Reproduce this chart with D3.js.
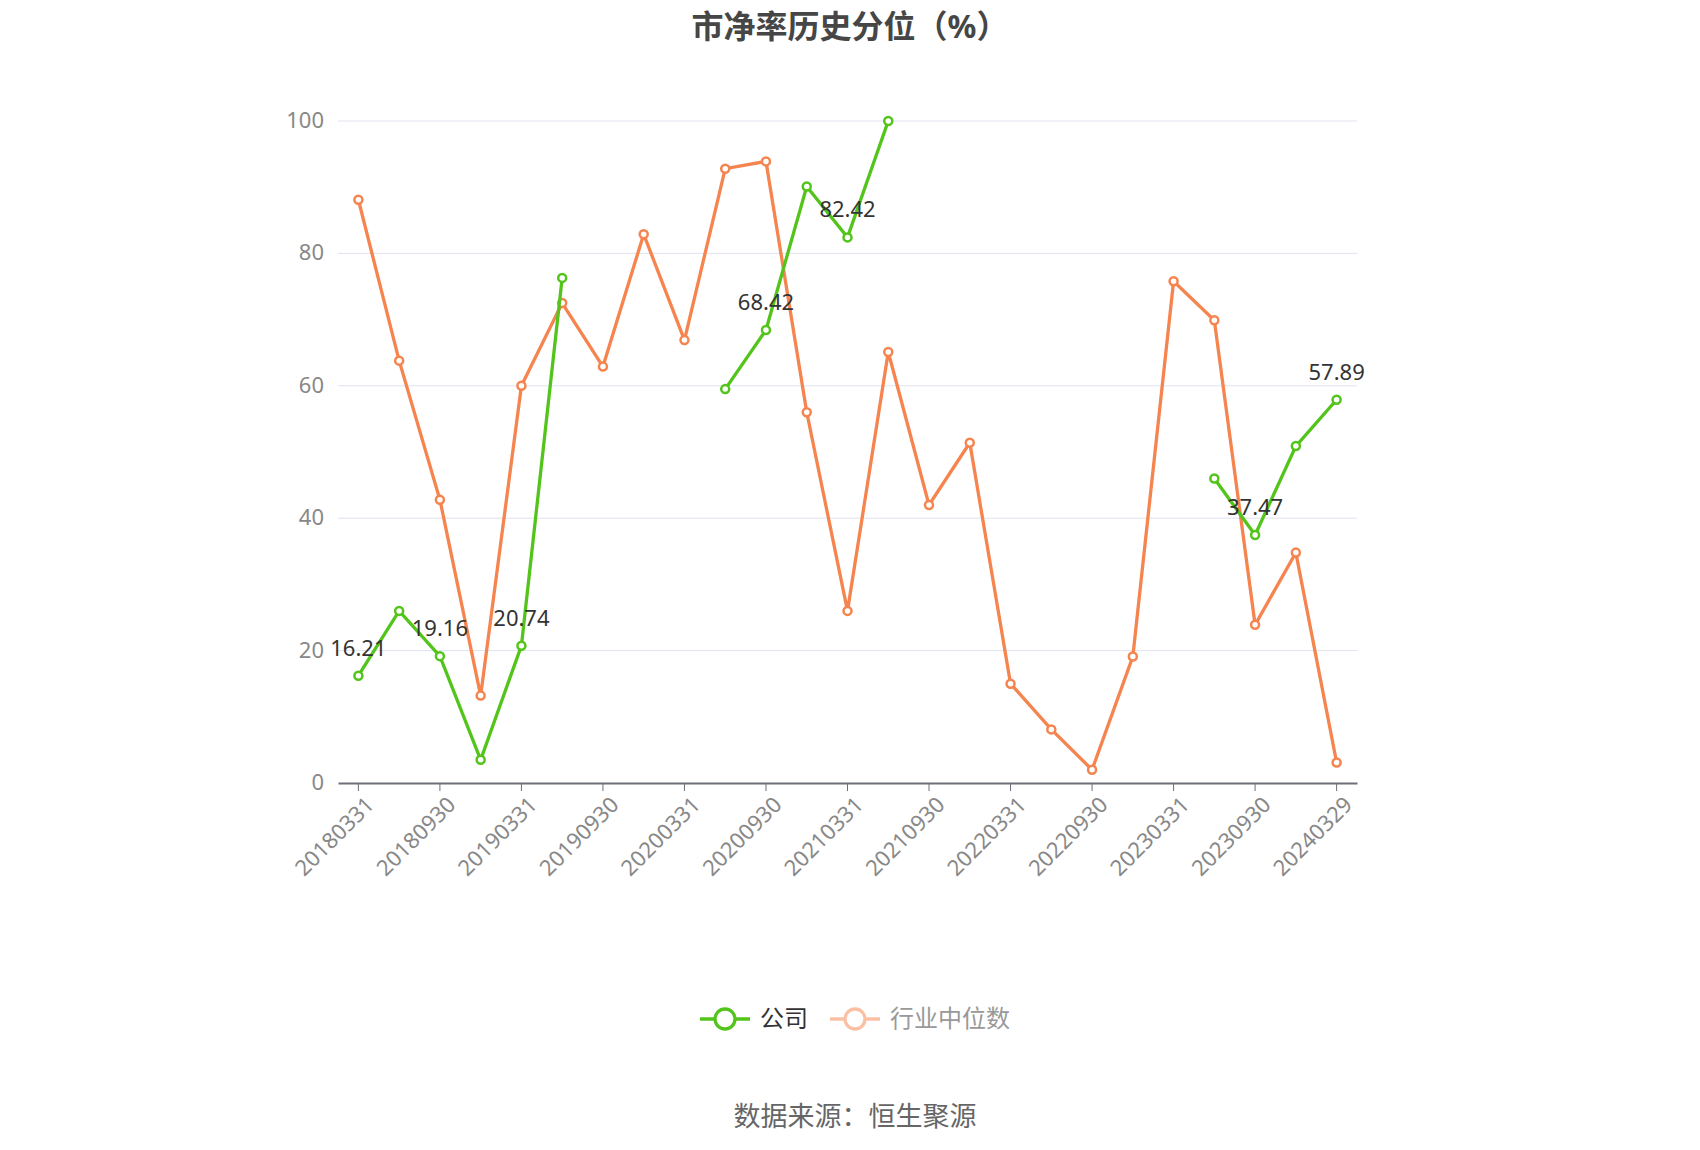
<!DOCTYPE html>
<html><head><meta charset="utf-8">
<script src="https://cdn.jsdelivr.net/npm/d3@7"></script>
<style>body{margin:0;background:#fff;font-family:"Noto Sans","Noto Sans CJK SC",sans-serif}</style>
</head><body><svg id="c" width="1700" height="1150"></svg>
<script>
const dates = ["20180331","20180630","20180930","20181231","20190331","20190630","20190930","20191231","20200331","20200630","20200930","20201231","20210331","20210630","20210930","20211231","20220331","20220630","20220930","20221230","20230331","20230630","20230930","20231229","20240329"];
const company = [16.21,26,19.16,3.5,20.74,76.3,null,null,null,59.5,68.42,90.1,82.42,100,null,null,null,null,null,null,null,46,37.47,50.9,57.89];
const industry = [88.1,63.8,42.8,13.2,60,72.5,62.9,82.9,66.9,92.8,93.9,56,26,65.1,42,51.4,15,8.1,2,19.1,75.8,69.9,23.9,34.8,3.1];
const labelIdx = [0,2,4,10,12,22,24];
const yTicks = [0,20,40,60,80,100];

const svg = d3.select("#c");
const L = 338, R = 1357, T = 121, B = 783;
const x = d3.scaleBand().domain(dates).range([L, R]);
const cx = d => x(d) + x.bandwidth() / 2;
const y = d3.scaleLinear().domain([0, 100]).range([B, T]);

svg.append("text").attr("x", 850).attr("y", 38).attr("text-anchor", "middle")
  .attr("font-size", 32).attr("font-weight", "bold").attr("fill", "#464646").text("市净率历史分位（%）");

svg.append("g").selectAll("line").data(yTicks.slice(1)).join("line")
  .attr("x1", L).attr("x2", R).attr("y1", d => y(d)).attr("y2", d => y(d)).attr("stroke", "#e0e3ef");
svg.append("g").selectAll("text").data(yTicks).join("text")
  .attr("x", L - 14).attr("y", d => y(d) + 7).attr("text-anchor", "end")
  .attr("font-size", 22).attr("fill", "#888").text(d => d);

const xa = svg.append("g").attr("transform", `translate(0,${B})`)
  .call(d3.axisBottom(x).tickValues(dates.filter((d, i) => i % 2 === 0)).tickSize(8).tickSizeOuter(0));
xa.select(".domain").attr("stroke", "#6e7079").attr("stroke-width", 2);
xa.selectAll(".tick line").attr("stroke", "#6e7079");
xa.selectAll(".tick text").attr("font-size", 22).attr("fill", "#888")
  .attr("font-family", "Noto Sans").attr("text-anchor", "end")
  .attr("transform", "translate(0,6) rotate(-45)").attr("dx", 0).attr("dy", "0.6em");

const line = d3.line().defined(d => d[1] != null).x(d => cx(d[0])).y(d => y(d[1]));
function series(vals, color) {
  const pts = dates.map((d, i) => [d, vals[i]]);
  svg.append("path").datum(pts).attr("d", line).attr("fill", "none")
    .attr("stroke", color).attr("stroke-width", 3.3);
  svg.append("g").selectAll("circle").data(pts.filter(p => p[1] != null)).join("circle")
    .attr("cx", p => cx(p[0])).attr("cy", p => y(p[1])).attr("r", 4)
    .attr("fill", "#fff").attr("stroke", color).attr("stroke-width", 2.5);
}
series(industry, "#f5844f");
series(company, "#52c41a");

svg.append("g").selectAll("text").data(labelIdx).join("text")
  .attr("x", i => cx(dates[i])).attr("y", i => y(company[i]) - 20).attr("text-anchor", "middle")
  .attr("font-size", 22).attr("fill", "#333").text(i => company[i].toFixed(2));

const lg = svg.append("g").attr("transform", "translate(700,1019)");
lg.append("line").attr("x1", 0).attr("x2", 50).attr("stroke", "#52c41a").attr("stroke-width", 3.3);
lg.append("circle").attr("cx", 25).attr("r", 10).attr("fill", "#fff").attr("stroke", "#52c41a").attr("stroke-width", 3.3);
lg.append("text").attr("x", 60).attr("y", 8).attr("font-size", 24).attr("fill", "#333").text("公司");
lg.append("line").attr("x1", 130).attr("x2", 180).attr("stroke", "#fbc0a3").attr("stroke-width", 3.3);
lg.append("circle").attr("cx", 155).attr("r", 10).attr("fill", "#fff").attr("stroke", "#fbc0a3").attr("stroke-width", 3.3);
lg.append("text").attr("x", 190).attr("y", 8).attr("font-size", 24).attr("fill", "#999").text("行业中位数");

svg.append("text").attr("x", 855).attr("y", 1126).attr("text-anchor", "middle")
  .attr("font-size", 27).attr("fill", "#666").text("数据来源：恒生聚源");
</script></body></html>
